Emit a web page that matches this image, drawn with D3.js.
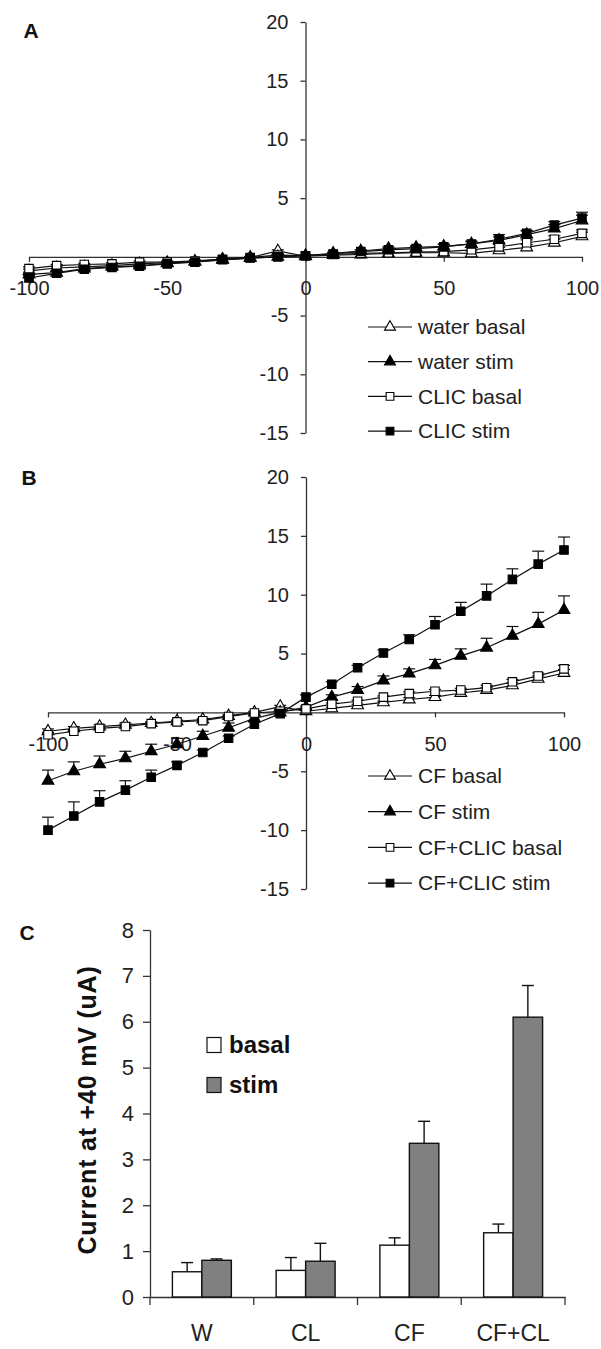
<!DOCTYPE html>
<html>
<head>
<meta charset="utf-8">
<script src="https://cdn.jsdelivr.net/npm/d3@7"></script>
<style>
  body { margin: 0; background: #fff; }
  svg { display: block; }
  text { font-family: "Liberation Sans", Arial, sans-serif; }
</style>
</head>
<body>
<svg id="chart" width="601" height="1349"></svg>
<script>
// ---- data ----
const voltages = [-100, -90, -80, -70, -60, -50, -40, -30, -20, -10, 0, 10, 20, 30, 40, 50, 60, 70, 80, 90, 100];
const ivTicksY = [-15, -10, -5, 5, 10, 15, 20];
const ivTicksX = [-100, -50, 0, 50, 100];

// panel A
const waterBasal    = [-1.2, -0.95, -0.85, -0.75, -0.6, -0.5, -0.4, -0.2, -0.05, 0.5, 0.05, 0.15, 0.2, 0.3, 0.35, 0.35, 0.3, 0.55, 0.8, 1.2, 1.75];
const waterBasalErr = [0.15, 0.1, 0.1, 0.1, 0.1, 0.1, 0.1, 0.1, 0.1, 0.1, 0.05, 0.1, 0.1, 0.1, 0.15, 0.15, 0.2, 0.25, 0.25, 0.3, 0.35];
const waterStim     = [-1.5, -1.35, -1.0, -0.85, -0.75, -0.55, -0.4, -0.25, -0.1, 0.0, 0.1, 0.3, 0.5, 0.7, 0.8, 0.9, 1.1, 1.4, 1.9, 2.4, 3.1];
const waterStimErr  = [0.2, 0.15, 0.15, 0.1, 0.1, 0.1, 0.1, 0.1, 0.1, 0.05, 0.05, 0.1, 0.1, 0.15, 0.15, 0.2, 0.2, 0.3, 0.3, 0.35, 0.45];
const clicBasal     = [-1.0, -0.75, -0.65, -0.6, -0.45, -0.45, -0.35, -0.2, -0.05, 0.15, 0.1, 0.2, 0.3, 0.35, 0.4, 0.45, 0.6, 0.85, 1.2, 1.5, 2.0];
const clicBasalErr  = [0.15, 0.1, 0.1, 0.1, 0.1, 0.1, 0.1, 0.05, 0.05, 0.05, 0.05, 0.1, 0.1, 0.1, 0.1, 0.15, 0.2, 0.2, 0.25, 0.3, 0.3];
const clicStim      = [-1.8, -1.4, -1.05, -0.9, -0.8, -0.6, -0.45, -0.25, -0.1, 0.0, 0.1, 0.25, 0.45, 0.6, 0.7, 0.85, 1.1, 1.5, 2.0, 2.7, 3.3];
const clicStimErr   = [0.2, 0.15, 0.15, 0.1, 0.1, 0.1, 0.1, 0.1, 0.1, 0.05, 0.05, 0.1, 0.15, 0.15, 0.2, 0.2, 0.25, 0.4, 0.25, 0.3, 0.5];

// panel B
const cfBasal        = [-1.6, -1.35, -1.2, -1.05, -0.9, -0.75, -0.6, -0.3, 0.0, 0.5, 0.1, 0.35, 0.6, 0.85, 1.1, 1.3, 1.65, 1.9, 2.3, 2.85, 3.35];
const cfBasalErr     = [0.2, 0.15, 0.15, 0.15, 0.1, 0.1, 0.1, 0.1, 0.1, 0.1, 0.05, 0.1, 0.1, 0.1, 0.15, 0.15, 0.15, 0.2, 0.2, 0.25, 0.3];
const cfStim         = [-5.8, -5.0, -4.4, -3.9, -3.3, -2.7, -2.0, -1.3, -0.5, 0.0, 0.45, 1.3, 1.9, 2.7, 3.3, 4.0, 4.8, 5.5, 6.5, 7.5, 8.7];
const cfStimErr      = [0.9, 0.8, 0.7, 0.6, 0.6, 0.5, 0.4, 0.4, 0.3, 0.1, 0.1, 0.2, 0.3, 0.4, 0.4, 0.5, 0.6, 0.8, 0.8, 1.0, 1.2];
const cfClicBasal    = [-1.9, -1.6, -1.35, -1.2, -0.95, -0.8, -0.7, -0.35, -0.05, 0.1, 0.3, 0.7, 0.95, 1.3, 1.6, 1.8, 1.9, 2.1, 2.6, 3.1, 3.7];
const cfClicBasalErr = [0.2, 0.15, 0.15, 0.15, 0.1, 0.1, 0.1, 0.1, 0.1, 0.1, 0.05, 0.1, 0.1, 0.1, 0.15, 0.15, 0.15, 0.2, 0.2, 0.25, 0.3];
const cfClicStim     = [-10.0, -8.8, -7.6, -6.6, -5.5, -4.5, -3.4, -2.2, -1.0, -0.1, 1.3, 2.4, 3.8, 5.05, 6.2, 7.45, 8.6, 9.9, 11.3, 12.6, 13.8];
const cfClicStimErr  = [1.1, 1.2, 0.95, 0.8, 0.6, 0.3, 0.2, 0.2, 0.2, 0.1, 0.2, 0.2, 0.2, 0.25, 0.4, 0.7, 0.75, 1.0, 0.9, 1.1, 1.1];

// panel C
const groups     = ["W", "CL", "CF", "CF+CL"];
const conditions = ["basal", "stim"];
const basal40    = [0.55, 0.58, 1.13, 1.4];
const basal40Err = [0.2, 0.28, 0.16, 0.19];
const stim40     = [0.8, 0.78, 3.35, 6.1];
const stim40Err  = [0.03, 0.39, 0.48, 0.69];
const barTicks   = [0, 1, 2, 3, 4, 5, 6, 7, 8];

// ---- chart ----
const svg = d3.select("#chart");
const ink = "#222";
const plain = d => String(d);   // keep hyphen minus like the original

function styleAxis(sel, size) {
  sel.select(".domain").attr("stroke", "#333").attr("stroke-width", 1.3);
  sel.selectAll(".tick line").attr("stroke", "#333").attr("stroke-width", 1.3);
  sel.selectAll(".tick text").attr("fill", ink).style("font-size", size + "px")
    .style("font-family", '"Liberation Sans", Arial, sans-serif');
}

function drawIV(cfg) {
  const x = d3.scaleLinear().domain([-100, 100]).range(cfg.xRange);
  const y = d3.scaleLinear().domain([-15, 20]).range([cfg.bottom, cfg.top]);
  const g = svg.append("g");

  g.append("g")
    .attr("transform", `translate(${x(0)},0)`)
    .call(d3.axisLeft(y).tickValues(ivTicksY).tickFormat(plain).tickSize(5).tickSizeOuter(0).tickPadding(12))
    .call(s => styleAxis(s, 20));

  g.append("g")
    .attr("transform", `translate(0,${y(0)})`)
    .call(d3.axisBottom(x).tickValues(ivTicksX).tickFormat(plain).tickSize(5).tickSizeOuter(0).tickPadding(19))
    .call(s => styleAxis(s, 20));

  const line = d3.line().x(d => x(d.v)).y(d => y(d.i));

  cfg.series.forEach(s => {
    const pts = voltages.map((v, k) => ({ v: v, i: s.values[k], e: s.errors[k] }));
    const sg = g.append("g");
    sg.append("path").datum(pts).attr("d", line)
      .attr("fill", "none").attr("stroke", "#111").attr("stroke-width", 1.2);
    const eb = sg.selectAll(".eb").data(pts).join("g");
    eb.append("line")
      .attr("x1", d => x(d.v)).attr("x2", d => x(d.v))
      .attr("y1", d => y(d.i)).attr("y2", d => y(d.i + d.e))
      .attr("stroke", "#111").attr("stroke-width", 1.2);
    eb.append("line")
      .attr("x1", d => x(d.v) - 6).attr("x2", d => x(d.v) + 6)
      .attr("y1", d => y(d.i + d.e)).attr("y2", d => y(d.i + d.e))
      .attr("stroke", "#111").attr("stroke-width", 1.2);
    sg.selectAll(".mk").data(pts).join("path")
      .attr("d", d3.symbol().type(s.shape).size(s.shape === d3.symbolSquare ? 72 : 60))
      .attr("transform", d => `translate(${x(d.v)},${y(d.i)})`)
      .attr("fill", s.filled ? "#000" : "#fff")
      .attr("stroke", "#000").attr("stroke-width", 1.1);
  });

  // legend
  const lg = g.append("g");
  cfg.series.forEach((s, k) => {
    const ly = cfg.legendTop + k * cfg.legendStep;
    lg.append("line").attr("x1", 368).attr("x2", 412).attr("y1", ly).attr("y2", ly)
      .attr("stroke", "#111").attr("stroke-width", 1.2);
    lg.append("path")
      .attr("d", d3.symbol().type(s.shape).size(s.shape === d3.symbolSquare ? 60 : 52))
      .attr("transform", `translate(390,${ly})`)
      .attr("fill", s.filled ? "#000" : "#fff")
      .attr("stroke", "#000").attr("stroke-width", 1.1);
    lg.append("text").attr("x", 418).attr("y", ly).attr("dy", "0.35em")
      .attr("fill", ink).style("font-size", "21px").text(s.name);
  });

  svg.append("text").attr("x", cfg.letterX).attr("y", cfg.letterY).attr("dy", "0.35em")
    .attr("text-anchor", "middle").style("font-size", "21px").style("font-weight", "bold")
    .attr("fill", "#111").text(cfg.letter);
}

drawIV({
  xRange: [29, 582], top: 22, bottom: 433,
  legendTop: 327, legendStep: 34.7, letter: "A", letterX: 31, letterY: 31,
  series: [
    { name: "water basal", values: waterBasal, errors: waterBasalErr, shape: d3.symbolTriangle, filled: false },
    { name: "water stim",  values: waterStim,  errors: waterStimErr,  shape: d3.symbolTriangle, filled: true },
    { name: "CLIC basal",  values: clicBasal,  errors: clicBasalErr,  shape: d3.symbolSquare,   filled: false },
    { name: "CLIC stim",   values: clicStim,   errors: clicStimErr,   shape: d3.symbolSquare,   filled: true }
  ]
});

drawIV({
  xRange: [48, 564], top: 477, bottom: 889,
  legendTop: 776, legendStep: 35.7, letter: "B", letterX: 29, letterY: 478,
  series: [
    { name: "CF basal",       values: cfBasal,     errors: cfBasalErr,     shape: d3.symbolTriangle, filled: false },
    { name: "CF stim",        values: cfStim,      errors: cfStimErr,      shape: d3.symbolTriangle, filled: true },
    { name: "CF+CLIC basal",  values: cfClicBasal, errors: cfClicBasalErr, shape: d3.symbolSquare,   filled: false },
    { name: "CF+CLIC stim",   values: cfClicStim,  errors: cfClicStimErr,  shape: d3.symbolSquare,   filled: true }
  ]
});

// ---- panel C: bar chart ----
const xC = d3.scaleBand().domain(groups).range([150, 565]).paddingInner(0).paddingOuter(0);
const xIn = d3.scaleBand().domain(conditions).range([0, xC.bandwidth()]).paddingInner(0).paddingOuter(0.76);
const yC = d3.scaleLinear().domain([0, 8]).range([1297, 930]);
const fills = { basal: "#fff", stim: "#808080" };
const gC = svg.append("g");

gC.append("g")
  .attr("transform", `translate(${xC.range()[0]},0)`)
  .call(d3.axisLeft(yC).tickValues(barTicks).tickSize(7).tickSizeOuter(0).tickPadding(9))
  .call(s => styleAxis(s, 22));

gC.append("g")
  .attr("transform", `translate(0,${yC(0)})`)
  .call(d3.axisBottom(xC).tickSize(0).tickPadding(28))
  .call(s => styleAxis(s, 23));

// category separators on the x axis
const seps = groups.map(c => xC(c)).concat([xC.range()[1]]);
gC.selectAll(".sep").data(seps).join("line")
  .attr("x1", d => d).attr("x2", d => d)
  .attr("y1", yC(0)).attr("y2", yC(0) + 8)
  .attr("stroke", "#333").attr("stroke-width", 1.3);

const barData = [];
groups.forEach((c, k) => {
  barData.push({ c: c, cond: "basal", v: basal40[k], e: basal40Err[k] });
  barData.push({ c: c, cond: "stim", v: stim40[k], e: stim40Err[k] });
});

const bars = gC.selectAll(".bar").data(barData).join("g");
bars.append("line")
  .attr("x1", d => xC(d.c) + xIn(d.cond) + xIn.bandwidth() / 2)
  .attr("x2", d => xC(d.c) + xIn(d.cond) + xIn.bandwidth() / 2)
  .attr("y1", d => yC(d.v)).attr("y2", d => yC(d.v + d.e))
  .attr("stroke", "#111").attr("stroke-width", 1.4);
bars.append("line")
  .attr("x1", d => xC(d.c) + xIn(d.cond) + xIn.bandwidth() / 2 - 6)
  .attr("x2", d => xC(d.c) + xIn(d.cond) + xIn.bandwidth() / 2 + 6)
  .attr("y1", d => yC(d.v + d.e)).attr("y2", d => yC(d.v + d.e))
  .attr("stroke", "#111").attr("stroke-width", 1.4);
bars.append("rect")
  .attr("x", d => xC(d.c) + xIn(d.cond))
  .attr("y", d => yC(d.v))
  .attr("width", xIn.bandwidth())
  .attr("height", d => yC(0) - yC(d.v))
  .attr("fill", d => fills[d.cond])
  .attr("stroke", "#111").attr("stroke-width", 1.4);

// legend C
conditions.forEach((cond, k) => {
  const ly = 1045 + k * 40;
  gC.append("rect").attr("x", 207).attr("y", ly - 7.5).attr("width", 14).attr("height", 15)
    .attr("fill", fills[cond]).attr("stroke", "#111").attr("stroke-width", 1.2);
  gC.append("text").attr("x", 229).attr("y", ly).attr("dy", "0.35em")
    .style("font-size", "24px").style("font-weight", "bold").attr("fill", "#111").text(cond);
});

// y label
gC.append("text")
  .attr("transform", "translate(87,1110) rotate(-90)")
  .attr("text-anchor", "middle").attr("dy", "0.35em")
  .style("font-size", "25px").style("font-weight", "bold").style("letter-spacing", "0.8px")
  .attr("fill", "#111").text("Current at +40 mV (uA)");

svg.append("text").attr("x", 27).attr("y", 933).attr("dy", "0.35em")
  .attr("text-anchor", "middle").style("font-size", "21px").style("font-weight", "bold")
  .attr("fill", "#111").text("C");
</script>
</body>
</html>
